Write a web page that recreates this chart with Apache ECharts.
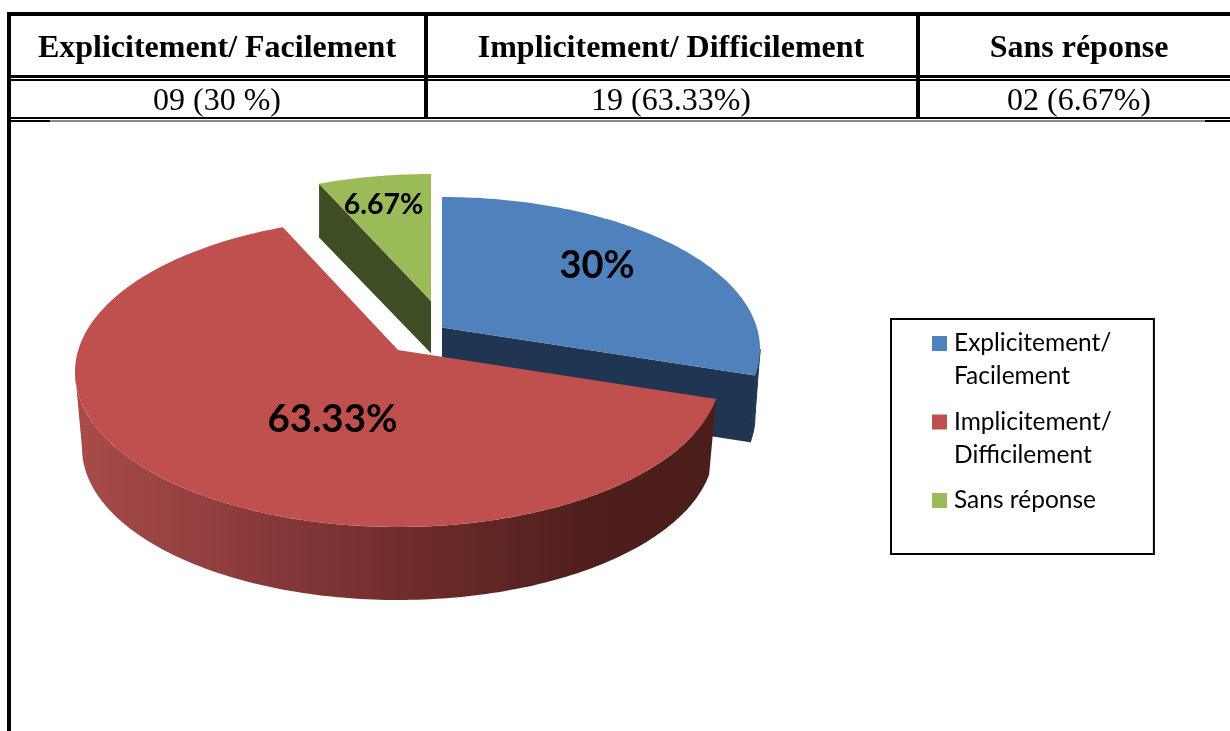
<!DOCTYPE html>
<html>
<head>
<meta charset="utf-8">
<style>
  html, body { margin: 0; padding: 0; background: #fff; }
  #main { width: 1230px; height: 731px; }
</style>
<script src="https://cdn.jsdelivr.net/npm/echarts@6/dist/echarts.min.js"></script>
</head>
<body>
<div id="main"></div>
<script>
// table and chart values
const categories = ['Explicitement/ Facilement', 'Implicitement/ Difficilement', 'Sans réponse'];
const rowTexts = ['09 (30 %)', '19 (63.33%)', '02 (6.67%)'];
const percents = [30, 63.33, 6.67];
const pieLabels = ['30%', '63.33%', '6.67%'];
const colors = ['#4f81bd', '#c0504d', '#9bbb59'];

// each exploded slice has its own ellipse, k pushes the apex back for the perspective look
const sliceLayout = [
  { cx: 442, cy: 349, a: 318, b: 152, ba: 313, bb: 150, depth: 67, cut: 'end', wall: '#1f3552', lx: 597, ly: 266, font: 38 },
  { cx: 398, cy: 372, a: 323, b: 155, ba: 316, bb: 152, depth: 76, cut: null, wall: null, lx: 332.5, ly: 420, font: 38.5 },
  { cx: 431, cy: 322, a: 314, b: 148, ba: 314, bb: 146, depth: 52, cut: 'start', wall: '#3f4d24', lx: 383.5, ly: 205, font: 28.5 }
];
const k = 0.142;
const drawOrder = [2, 0, 1];

function pt(cx, cy, a, b, deg) {
  const r = deg * Math.PI / 180;
  const u = Math.sin(r), v = -Math.cos(r);
  const d = 1 - k * v;
  return [cx + a * u * Math.sqrt(1 - k * k) / d, cy + b * (v - k) / d];
}

function arc(cx, cy, a, b, from, to) {
  const pts = [];
  const n = Math.ceil(Math.abs(to - from));
  for (let i = 0; i <= n; i++) pts.push(pt(cx, cy, a, b, from + (to - from) * i / n));
  return pts;
}

function sliceAngles(idx) {
  const total = percents.reduce((s, p) => s + p, 0);
  let start = 0;
  for (let i = 0; i < idx; i++) start += percents[i];
  return [start / total * 360, (start + percents[idx]) / total * 360];
}

function renderSlice(idx) {
  const s = sliceLayout[idx];
  const [from, to] = sliceAngles(idx);
  const top = arc(s.cx, s.cy, s.a, s.b, from, to);
  const children = [];
  let wallFill = s.wall;
  if (!wallFill) {
    wallFill = new echarts.graphic.LinearGradient(75, 0, 716, 0, [
      { offset: 0, color: '#a84c49' },
      { offset: 0.3, color: '#88393a' },
      { offset: 0.55, color: '#6b2b29' },
      { offset: 0.8, color: '#4f1f1d' },
      { offset: 1, color: '#4a1c1a' }
    ], true);
  }
  // outer wall, only between the two angles where the rim turns away from the viewer
  const turn = Math.acos(k) * 180 / Math.PI;
  const wallStart = Math.max(from, 180 - turn);
  const wallEnd = Math.min(to, 180 + turn);
  if (wallStart < wallEnd) {
    const wt = arc(s.cx, s.cy, s.a, s.b, wallStart, wallEnd);
    const wb = arc(s.cx, s.cy + s.depth, s.ba, s.bb, wallStart, wallEnd);
    children.push({
      type: 'polygon',
      shape: { points: wt.concat(wb.reverse()) },
      style: { fill: wallFill, stroke: s.wall ? s.wall : null, lineWidth: 1 }
    });
  }
  // cut face that looks at the viewer
  if (s.cut) {
    const deg = s.cut === 'end' ? to : from;
    const apexTop = [s.cx, s.cy - k * s.b];
    const apexBot = [s.cx, s.cy + s.depth - k * s.bb];
    children.push({
      type: 'polygon',
      shape: { points: [apexTop, pt(s.cx, s.cy, s.a, s.b, deg), pt(s.cx, s.cy + s.depth, s.ba, s.bb, deg), apexBot] },
      style: { fill: s.wall }
    });
  }
  // top face
  children.push({
    type: 'polygon',
    shape: { points: [[s.cx, s.cy - k * s.b]].concat(top) },
    style: { fill: colors[idx] }
  });
  children.push({
    type: 'text',
    style: {
      x: s.lx, y: s.ly, text: pieLabels[idx], fill: '#000', align: 'center', verticalAlign: 'middle',
      font: 'bold ' + s.font + 'px Lato'
    }
  });
  return { type: 'group', children: children };
}

// table rules and text
const serif = '"Liberation Serif"';
const colCenters = [217, 671, 1079];
const tableRules = [
  [7, 12, 1223, 4], [7, 75, 1223, 3], [7, 79, 1223, 2], [7, 117, 1223, 2],
  [7, 120, 43, 2], [50, 120, 1155, 2, '#8a8a8a'], [1205, 120, 25, 2],
  [7, 12, 4, 719], [424, 12, 4, 107], [916, 12, 4, 107]
];
const tableGraphic = tableRules.map(r => ({
  type: 'rect', silent: true, shape: { x: r[0], y: r[1], width: r[2], height: r[3] },
  style: { fill: r[4] || '#000' }
}));
categories.forEach((c, i) => {
  tableGraphic.push({
    type: 'text', silent: true,
    style: { x: colCenters[i], y: 49, text: c, align: 'center', verticalAlign: 'middle', fill: '#000', font: 'bold 32px ' + serif }
  });
  tableGraphic.push({
    type: 'text', silent: true,
    style: { x: colCenters[i], y: 102, text: rowTexts[i], align: 'center', verticalAlign: 'middle', fill: '#000', font: '32px ' + serif }
  });
});

// legend squares sit on the first text line, so the icon box is taller than the square
const iconFirstLine = 'path://M0,0H15V15H0Z M14.99,47.99H15V48H14.99Z';

const chart = echarts.init(document.getElementById('main'));
chart.setOption({
  animation: false,
  backgroundColor: '#fff',
  legend: {
    orient: 'vertical',
    left: 891,
    top: 319,
    padding: [8, 42, 4, 41],
    itemGap: 12.5,
    itemWidth: 15,
    itemHeight: 48,
    icon: iconFirstLine,
    borderColor: '#000',
    borderWidth: 2,
    data: categories,
    selectedMode: false,
    // one line names get an empty second line so every entry has the same height
    formatter: name => name.indexOf('/ ') >= 0 ? name.replace('/ ', '/\n') : name + '\n ',
    textStyle: { fontFamily: 'Lato', fontSize: 24.5, lineHeight: 33, color: '#000', padding: [0, 0, 0, 2] }
  },
  graphic: tableGraphic,
  series: drawOrder.map(idx => ({
    type: 'custom',
    name: categories[idx],
    coordinateSystem: 'none',
    z: 2 + drawOrder.indexOf(idx),
    silent: true,
    itemStyle: { color: colors[idx] },
    data: [percents[idx]],
    renderItem: () => renderSlice(idx)
  }))
});
</script>
</body>
</html>
